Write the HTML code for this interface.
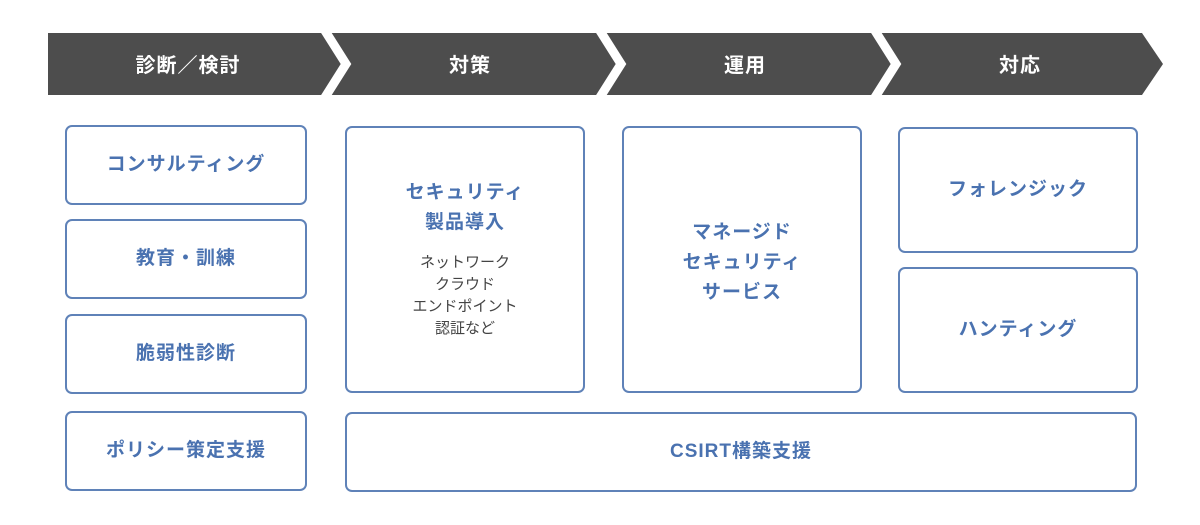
<!DOCTYPE html>
<html><head><meta charset="utf-8"><style>
body{margin:0;width:1200px;height:525px;background:#fff;position:relative;overflow:hidden;font-family:"Liberation Sans","Noto Sans CJK JP",sans-serif}
.b{position:absolute;border:2px solid #5f82b8;border-radius:7px;box-sizing:border-box;display:flex;flex-direction:column;align-items:center;justify-content:center;color:#4a72b0;font-weight:bold;font-size:19px;text-align:center;line-height:30px;letter-spacing:1px}
.s{font-size:15px;font-weight:normal;line-height:22px;color:#444;margin-top:14px;letter-spacing:0}
.h{position:absolute;top:35px;height:62px;line-height:62px;color:#fff;font-weight:bold;font-size:20px;text-align:center;letter-spacing:1px}
</style></head><body>
<svg width="1200" height="525" style="position:absolute;left:0;top:0">
<polygon points="48,33 1142,33 1163,64 1142,95 48,95" fill="#4d4d4d"/>
<g fill="none" stroke="#fff" stroke-width="9">
<polyline points="322,26 346,64 322,102"/>
<polyline points="597,26 621,64 597,102"/>
<polyline points="872,26 896,64 872,102"/>
</g>
</svg>
<div class="h" style="left:48px;width:280px">診断／検討</div>
<div class="h" style="left:340px;width:260px">対策</div>
<div class="h" style="left:615px;width:260px">運用</div>
<div class="h" style="left:890px;width:260px">対応</div>
<div class="b" style="left:65px;top:125px;width:242px;height:80px">コンサルティング</div>
<div class="b" style="left:65px;top:219px;width:242px;height:80px">教育・訓練</div>
<div class="b" style="left:65px;top:314px;width:242px;height:80px">脆弱性診断</div>
<div class="b" style="left:65px;top:411px;width:242px;height:80px">ポリシー策定支援</div>
<div class="b" style="left:345px;top:126px;width:240px;height:267px;justify-content:flex-start;padding-top:50px">セキュリティ<br>製品導入<div class="s">ネットワーク<br>クラウド<br>エンドポイント<br>認証など</div></div>
<div class="b" style="left:622px;top:126px;width:240px;height:267px;line-height:30px;padding-top:6px">マネージド<br>セキュリティ<br>サービス</div>
<div class="b" style="left:898px;top:127px;width:240px;height:126px">フォレンジック</div>
<div class="b" style="left:898px;top:267px;width:240px;height:126px">ハンティング</div>
<div class="b" style="left:345px;top:412px;width:792px;height:80px">CSIRT構築支援</div>
</body></html>
